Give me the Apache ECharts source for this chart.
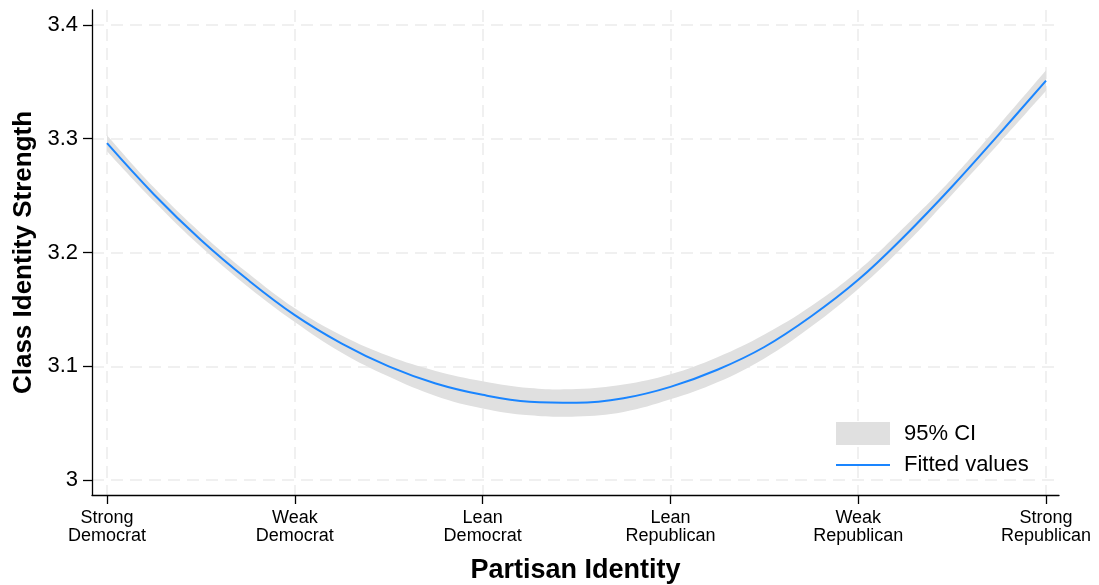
<!DOCTYPE html>
<html>
<head>
<meta charset="utf-8">
<script src="https://cdn.jsdelivr.net/npm/echarts@6/dist/echarts.min.js"></script>
<style>
html,body{margin:0;padding:0;background:#fff;}
#chart{width:1099px;height:585px;}
</style>
</head>
<body>
<div id="chart"></div>
<script>
// Category tick labels (x positions 1..6)
const categories = ['Strong\nDemocrat','Weak\nDemocrat','Lean\nDemocrat','Lean\nRepublican','Weak\nRepublican','Strong\nRepublican'];
const categoryPositions = [1, 2, 3, 4, 5, 6];
const yTicks = [3, 3.1, 3.2, 3.3, 3.4];

// Points
const xs =     [1.00, 1.25, 1.50, 1.75, 2.00, 2.25, 2.50, 2.75, 3.00, 3.25, 3.50, 3.75, 4.00, 4.25, 4.50, 4.75, 5.00, 5.25, 5.50, 5.75, 6.00];
const fitted = [3.296,3.251,3.211,3.176,3.145,3.120,3.100,3.085,3.075,3.069,3.068,3.072,3.082,3.097,3.117,3.144,3.176,3.215,3.258,3.304,3.351];
const ciLow =  [3.289,3.245,3.205,3.170,3.139,3.112,3.091,3.074,3.063,3.057,3.056,3.060,3.071,3.086,3.107,3.135,3.168,3.207,3.251,3.296,3.342];
const ciHigh = [3.303,3.257,3.217,3.182,3.151,3.127,3.109,3.096,3.087,3.081,3.080,3.084,3.093,3.108,3.128,3.153,3.184,3.223,3.265,3.312,3.360];

const FONT = '"Liberation Sans", Arial, Helvetica, sans-serif';
const BLUE = '#1a85ff';
const BAND = '#e0e0e0';
const GRID = '#ebebeb';
const SMOOTH = 0.4;

const chart = echarts.init(document.getElementById('chart'));

// Bezier segments following the same control-point rule as ECharts' smoothed line
function splineSegs(p) {
  const n = p.length;
  const cpIn = [], cpOut = [];
  for (let i = 0; i < n; i++) {
    const x = p[i][0], y = p[i][1];
    if (i === 0 || i === n - 1) { cpIn.push([x, y]); cpOut.push([x, y]); continue; }
    const pr = p[i - 1], nx = p[i + 1];
    const vx = nx[0] - pr[0], vy = nx[1] - pr[1];
    const l0 = Math.hypot(x - pr[0], y - pr[1]);
    const l1 = Math.hypot(nx[0] - x, nx[1] - y);
    const r = l1 / (l0 + l1);
    cpIn.push([x - vx * SMOOTH * (1 - r), y - vy * SMOOTH * (1 - r)]);
    cpOut.push([x + vx * SMOOTH * r, y + vy * SMOOTH * r]);
  }
  let d = '';
  for (let i = 0; i < n - 1; i++) {
    d += ' C' + cpOut[i][0] + ',' + cpOut[i][1] + ' ' + cpIn[i + 1][0] + ',' + cpIn[i + 1][1] + ' ' + p[i + 1][0] + ',' + p[i + 1][1];
  }
  return d;
}

const fitPairs = xs.map((x, i) => [x, fitted[i]]);

chart.setOption({
  animation: false,
  backgroundColor: '#fff',
  textStyle: { fontFamily: FONT },
  grid: { left: 92, right: 40, top: 10, bottom: 90, containLabel: false, outerBoundsMode: 'none' },
  xAxis: {
    type: 'value',
    min: 0.92,
    max: 6.069,
    name: 'Partisan Identity',
    nameLocation: 'middle',
    nameGap: 62,
    nameTextStyle: { fontFamily: FONT, fontSize: 27, fontWeight: 'bold', color: '#000' },
    axisLine: { show: true, onZero: false, lineStyle: { color: '#000', width: 1.3 } },
    axisTick: { show: true, length: 9, lineStyle: { color: '#000', width: 1.3 }, customValues: categoryPositions },
    axisLabel: {
      customValues: categoryPositions,
      margin: 14,
      fontFamily: FONT, fontSize: 18, lineHeight: 18, color: '#000',
      formatter: v => categories[categoryPositions.indexOf(Math.round(v))] || ''
    },
    splitLine: { show: true, lineStyle: { color: GRID, width: 1.5, type: [12, 7] } }
  },
  yAxis: {
    type: 'value',
    min: 2.987,
    max: 3.413,
    name: 'Class Identity Strength',
    nameLocation: 'middle',
    nameGap: 50,
    nameTextStyle: { fontFamily: FONT, fontSize: 26, fontWeight: 'bold', color: '#000' },
    axisLine: { show: true, onZero: false, lineStyle: { color: '#000', width: 1.3 } },
    axisTick: { show: true, length: 9, lineStyle: { color: '#000', width: 1.3 }, customValues: yTicks },
    axisLabel: {
      customValues: yTicks,
      margin: 14,
      fontFamily: FONT, fontSize: 22, color: '#000',
      formatter: v => String(+v.toFixed(1))
    },
    splitLine: { show: true, lineStyle: { color: GRID, width: 1.5, type: [12, 7] } }
  },
  legend: {
    orient: 'vertical',
    left: 835,
    top: 422,
    itemWidth: 54,
    itemHeight: 23,
    itemGap: 9,
    padding: 0,
    textStyle: { fontFamily: FONT, fontSize: 22, color: '#000', padding: [0, 0, 0, 9] },
    data: [
      { name: '95% CI', icon: 'rect', itemStyle: { color: BAND } },
      { name: 'Fitted values', itemStyle: { opacity: 0 } }
    ]
  },
  series: [
    {
      name: '95% CI',
      type: 'custom',
      coordinateSystem: 'cartesian2d',
      data: [[xs[0], ciLow[0]]],
      itemStyle: { color: BAND },
      silent: true,
      z: 1,
      renderItem: function (params, api) {
        const up = xs.map((x, i) => api.coord([x, ciHigh[i]]));
        const lo = xs.map((x, i) => api.coord([x, ciLow[i]])).reverse();
        const d = 'M' + up[0][0] + ',' + up[0][1] + splineSegs(up) +
                  ' L' + lo[0][0] + ',' + lo[0][1] + splineSegs(lo) + ' Z';
        return { type: 'path', shape: { pathData: d }, style: { fill: BAND, stroke: null } };
      }
    },
    {
      name: 'Fitted values',
      type: 'line',
      data: fitPairs,
      smooth: SMOOTH,
      symbol: 'none',
      itemStyle: { color: BLUE },
      lineStyle: { color: BLUE, width: 2 },
      z: 3
    }
  ]
});
</script>
</body>
</html>
